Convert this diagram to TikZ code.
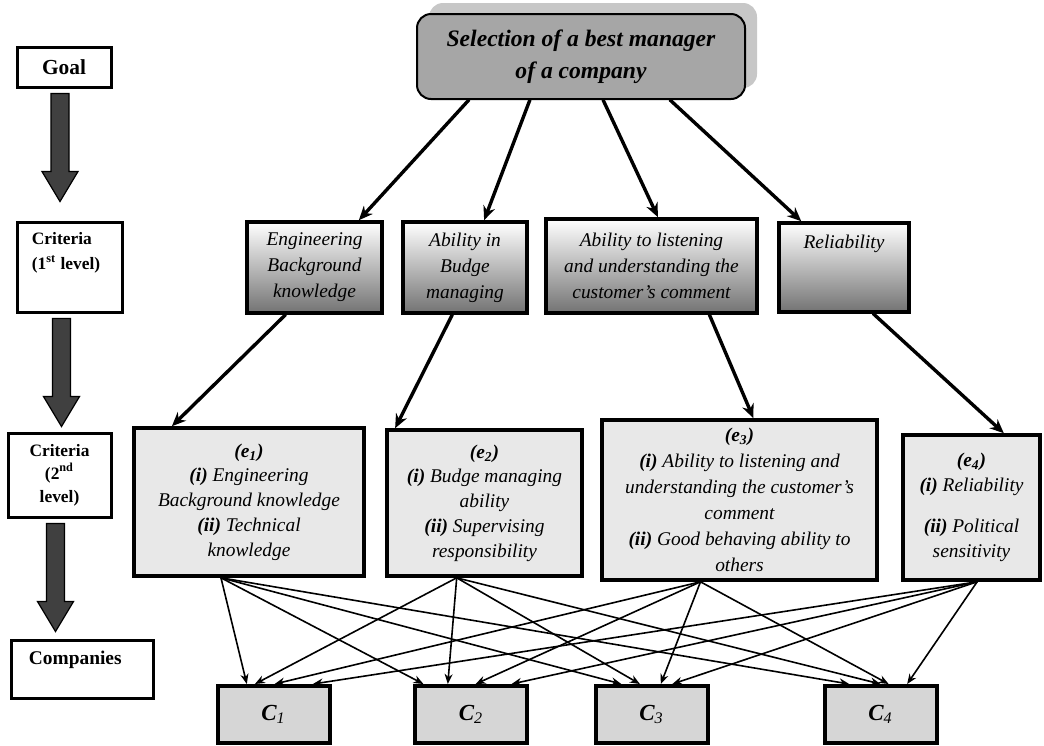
\documentclass[tikz,border=0pt]{standalone}
\usepackage{fontspec}
\setmainfont{Liberation Serif}
\usetikzlibrary{calc,arrows.meta,shadows}

\newcommand\eno[1]{\textbf{(e}\textsubscript{\textbf{#1}}\textbf{)}}
\newcommand\alt[1]{{\bfseries C}\textsubscript{#1}}

% grosse fleche grise de la colonne de gauche
\newcommand\bigarrow[4]{%
  \coordinate (arrtop) at ($(#1.south)+(#3,-2.5pt)$);
  \coordinate (arrtip) at ($(arrtop |- #2.north)+(0,#4)$);
  \filldraw[bigarr] ($(arrtop)+(-4.5pt,0)$) -- ($(arrtop)+(4.5pt,0)$)
    -- ($(arrtip)+(4.5pt,15pt)$) -- ($(arrtip)+(9pt,15pt)$) -- (arrtip)
    -- ($(arrtip)+(-9pt,15pt)$) -- ($(arrtip)+(-4.5pt,15pt)$) -- cycle ;}

\begin{document}
\begin{tikzpicture}[x=0.5pt, y=-0.5pt, line cap=round,
  >={Stealth[length=7pt,width=6pt]},
  lvlbox/.style={draw, line width=1.5pt, align=center, inner sep=1pt,
    font=\bfseries\fontsize{8.7}{11.5}\selectfont},
  lbltext/.style={anchor=north west, align=left, inner sep=0pt,
    font=\bfseries\fontsize{8.7}{12.5}\selectfont},
  goalbox/.style={draw, line width=1pt, rounded corners=7pt, fill=black!35,
    align=center, font=\bfseries\itshape\fontsize{11.8}{16}\selectfont,
    drop shadow={shadow xshift=6pt, shadow yshift=5.5pt, fill=black!22, opacity=1}},
  critbox/.style={draw, line width=1.8pt, top color=white, bottom color=black!55,
    align=center, font=\itshape\fontsize{9.7}{13}\selectfont},
  subbox/.style={draw, line width=1.8pt, fill=black!9, align=center,
    font=\itshape\fontsize{9.7}{12.4}\selectfont},
  altbox/.style={draw, line width=2pt, fill=black!16, minimum width=56pt,
    minimum height=28.5pt, font=\itshape\fontsize{11.5}{14}\selectfont},
  bigarr/.style={fill=black!75, draw=black, line width=0.6pt},
  link/.style={->, line width=1.7pt},
  pairlink/.style={-{Stealth[length=5pt,width=4pt]}, line width=0.8pt}]

\useasboundingbox (0,0) rectangle (1044,745);

%% Colonne de gauche.

\node[lvlbox, minimum width=47pt, minimum height=20pt,
  font=\bfseries\fontsize{10.7}{12}\selectfont] (goalL) at (64,67) {Goal};
\node[lvlbox, minimum width=52.5pt, minimum height=45pt,
  label={[lbltext, xshift=8pt, yshift=-6pt]north west:Criteria\\(1\textsuperscript{st} level)}]
  (crit1) at (69.5,267) {};
\node[lvlbox, minimum width=51.5pt, minimum height=42pt] (crit2) at (59.5,475)
  {Criteria\\(2\textsuperscript{nd}\\level)};
\node[lvlbox, minimum width=71pt, minimum height=29pt,
  label={[lbltext, font=\bfseries\fontsize{9.7}{12}\selectfont, xshift=9.5pt, yshift=-6pt]north west:Companies}]
  (comp) at (82,669) {};

\bigarrow{goalL}{crit1}{-2pt}{9.5pt}
\bigarrow{crit1}{crit2}{-4pt}{2.5pt}
\bigarrow{crit2}{comp}{-2pt}{3.5pt}

%% Le but.

\node[goalbox, minimum width=164pt, minimum height=42.5pt] (goal) at (581,56.5)
  {Selection of a best manager\\of a company};

%% Criteres du premier niveau.

\node[critbox, minimum width=67.5pt, minimum height=45.5pt] (eng) at (314.5,267.5)
  {Engineering\\Background\\knowledge};
\node[critbox, minimum width=62pt, minimum height=45.5pt] (budge) at (465,267.5)
  {Ability in\\Budge\\managing};
\node[critbox, minimum width=105.5pt, minimum height=47pt] (listen) at (651.5,266)
  {Ability to listening\\and understanding the\\customer's comment};
\node[critbox, minimum width=65pt, minimum height=44.5pt] (relia) at (844,267.5)
  {Reliability\\~\\~};

%% Criteres du second niveau.

\node[subbox, minimum width=115pt, minimum height=74pt] (e1) at (249,502)
  {\eno{1}\\\textbf{(i)} Engineering\\Background knowledge\\\textbf{(ii)} Technical\\knowledge};
\node[subbox, minimum width=97.5pt, minimum height=73pt] (e2) at (484.5,503)
  {\eno{2}\\\textbf{(i)} Budge managing\\ability\\\textbf{(ii)} Supervising\\responsibility};
\node[subbox, minimum width=137.5pt, minimum height=80pt,
  font=\itshape\fontsize{9.7}{13}\selectfont] (e3) at (739.5,500)
  {\eno{3}\\\textbf{(i)} Ability to listening and\\understanding the customer's\\comment\\\textbf{(ii)} Good behaving ability to\\others};
\node[subbox, minimum width=68.5pt, minimum height=72.5pt] (e4) at (971.5,507.5)
  {\eno{4}\\\textbf{(i)} Reliability\\[8pt]\textbf{(ii)} Political\\sensitivity};

%% Les compagnies.

\node[altbox] (C1) at (273.5,714.5) {\alt{1}};
\node[altbox] (C2) at (471,714.5) {\alt{2}};
\node[altbox] (C3) at (651.5,714.5) {\alt{3}};
\node[altbox] (C4) at (880.5,714.5) {\alt{4}};

%% Fleches.

\foreach \a/\p/\b/\q in {goal/.16/eng/.82, goal/.345/budge/.65, goal/.567/listen/.53,
    goal/.77/relia/.18, eng/.29/e1/.17, budge/.40/e2/.05, listen/.77/e3/.55, relia/.72/e4/.73}
  \draw[link] ($(\a.south west)!\p!(\a.south east)$) -- ($(\b.north west)!\q!(\b.north east)$);

\foreach \a/\p/\b/\q in {e1/.38/C1/.27, e1/.38/C2/.09, e1/.38/C3/.24, e1/.38/C4/.23,
    e2/.36/C1/.34, e2/.36/C2/.30, e2/.36/C3/.40, e2/.36/C4/.50,
    e3/.36/C1/.51, e3/.36/C2/.54, e3/.36/C3/.58, e3/.36/C4/.57,
    e4/.54/C1/.84, e4/.54/C2/.85, e4/.54/C3/.68, e4/.54/C4/.73}
  \draw[pairlink] ($(\a.south west)!\p!(\a.south east)$) -- ($(\b.north west)!\q!(\b.north east)$);

\end{tikzpicture}
\end{document}
